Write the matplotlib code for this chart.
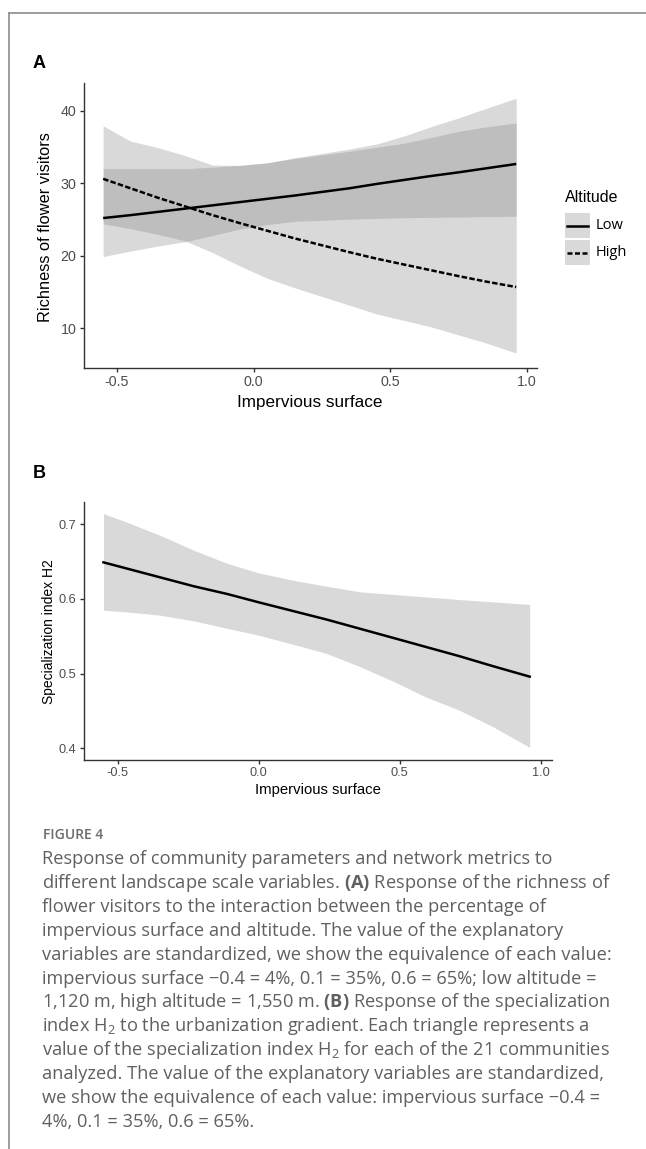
import matplotlib
matplotlib.use("Agg")
import matplotlib.pyplot as plt
from matplotlib.patches import Rectangle
from matplotlib.lines import Line2D

# ---------------- data: panel A (richness of flower visitors) ----------------
imperv_A = [-0.55, -0.45, -0.35, -0.25, -0.15, -0.05, 0.05, 0.15, 0.25, 0.35,
            0.45, 0.55, 0.65, 0.75, 0.85, 0.96]
low_fit = [25.2, 25.6, 26.05, 26.5, 26.95, 27.4, 27.85, 28.3, 28.8, 29.3,
           29.9, 30.45, 31.0, 31.5, 32.05, 32.65]
low_lower = [19.9, 20.65, 21.35, 21.95, 22.8, 23.7, 24.3, 24.75, 24.9, 25.05,
             25.15, 25.25, 25.3, 25.35, 25.4, 25.45]
low_upper = [32.0, 32.0, 32.0, 32.0, 32.2, 32.45, 32.8, 33.5, 34.1, 34.7,
             35.4, 36.5, 37.8, 39.0, 40.3, 41.7]
high_fit = [30.6, 29.3, 28.0, 26.8, 25.6, 24.5, 23.45, 22.4, 21.45, 20.5,
            19.6, 18.8, 18.0, 17.2, 16.45, 15.7]
high_lower = [24.4, 23.75, 22.95, 22.05, 20.45, 18.6, 16.9, 15.6, 14.4, 13.2,
              12.0, 11.1, 10.2, 9.1, 8.0, 6.6]
high_upper = [37.9, 35.8, 34.9, 33.8, 32.5, 32.45, 32.8, 33.4, 33.9, 34.4,
              34.95, 35.5, 36.3, 37.15, 37.75, 38.3]
altitude_levels = ["Low", "High"]
xticks_A = [-0.5, 0.0, 0.5, 1.0]
yticks_A = [10, 20, 30, 40]

# ---------------- data: panel B (specialization index H2) ----------------
imperv_B = [-0.55, -0.47, -0.35, -0.23, -0.11, 0.0, 0.12, 0.24, 0.36, 0.48,
            0.59, 0.71, 0.83, 0.96]
h2_fit = [0.649, 0.641, 0.629, 0.617, 0.6065, 0.5955, 0.584, 0.5725, 0.560,
          0.5475, 0.536, 0.5235, 0.510, 0.496]
h2_upper = [0.7143, 0.7031, 0.6853, 0.6652, 0.6474, 0.6349, 0.6251, 0.6171,
            0.6095, 0.6059, 0.6028, 0.5992, 0.5961, 0.5926]
h2_lower = [0.585, 0.5827, 0.5783, 0.5707, 0.5605, 0.5515, 0.5395, 0.527,
            0.5092, 0.4891, 0.4691, 0.4512, 0.4289, 0.4013]
xticks_B = [-0.5, 0.0, 0.5, 1.0]
yticks_B = [0.4, 0.5, 0.6, 0.7]

caption_title = "FIGURE 4"
caption_lines = [
    "Response of community parameters and network metrics to",
    r"different landscape scale variables. $\mathbf{(A)}$ Response of the richness of",
    "flower visitors to the interaction between the percentage of",
    "impervious surface and altitude. The value of the explanatory",
    "variables are standardized, we show the equivalence of each value:",
    "impervious surface \u22120.4 = 4%, 0.1 = 35%, 0.6 = 65%; low altitude =",
    r"1,120 m, high altitude = 1,550 m. $\mathbf{(B)}$ Response of the specialization",
    r"index H$_2$ to the urbanization gradient. Each triangle represents a",
    r"value of the specialization index H$_2$ for each of the 21 communities",
    "analyzed. The value of the explanatory variables are standardized,",
    "we show the equivalence of each value: impervious surface \u22120.4 =",
    "4%, 0.1 = 35%, 0.6 = 65%.",
]

# ---------------- style ----------------
plt.rcParams["font.family"] = ["Liberation Sans", "DejaVu Sans"]
plt.rcParams["mathtext.fontset"] = "custom"
plt.rcParams["mathtext.rm"] = "Open Sans"
plt.rcParams["mathtext.it"] = "Open Sans:italic"
plt.rcParams["mathtext.bf"] = "Open Sans:bold"

W, H, DPI = 646, 1149, 100
fig = plt.figure(figsize=(W / DPI, H / DPI), dpi=DPI)
fig.patch.set_facecolor("white")

BAND = "#7c7c7c"
BAND_ALPHA = 0.29
TICKCOL = "#4d4d4d"
AXCOL = "#333333"


def px_axes(l, t, r, b):
    return fig.add_axes([l / W, 1 - b / H, (r - l) / W, (b - t) / H])


def style(ax, fs_tick):
    for s in ("top", "right"):
        ax.spines[s].set_visible(False)
    for s in ("left", "bottom"):
        ax.spines[s].set_color(AXCOL)
        ax.spines[s].set_linewidth(1.0)
    ax.tick_params(axis="both", colors=AXCOL, labelcolor=TICKCOL,
                   length=3, width=1.0, labelsize=fs_tick)
    ax.tick_params(axis="x", pad=2.0)
    ax.tick_params(axis="y", pad=2.5)


# frame of the page
fig.add_artist(Line2D([9 / W, 1.0], [1 - 13 / H, 1 - 13 / H], transform=fig.transFigure,
                      color="#8c8c8c", lw=1.2))
fig.add_artist(Line2D([9 / W, 9 / W], [1 - 13 / H, 0.0], transform=fig.transFigure,
                      color="#8c8c8c", lw=1.2))

# ---------------- panel A ----------------
axA = px_axes(84, 83, 537, 368)
axA.fill_between(imperv_A, low_lower, low_upper, color=BAND, alpha=BAND_ALPHA, lw=0)
axA.fill_between(imperv_A, high_lower, high_upper, color=BAND, alpha=BAND_ALPHA, lw=0)
axA.plot(imperv_A, low_fit, color="black", lw=1.8, solid_capstyle="butt")
axA.plot(imperv_A, high_fit, color="black", lw=1.8, dashes=(2.2, 0.9))
axA.set_xlim(-0.62, 1.036)
axA.set_ylim(4.55, 43.8)
axA.set_xticks(xticks_A)
axA.set_xticklabels([f"{v:.1f}" for v in xticks_A])
axA.set_yticks(yticks_A)
style(axA, 10.3)
axA.set_xlabel("Impervious surface", fontsize=12.3, va="center")
axA.xaxis.set_label_coords(0.499, (368 - 403) / (368 - 83))
axA.set_ylabel("Richness of flower visitors", fontsize=11.8, va="center")
axA.yaxis.set_label_coords((46 - 84) / (537 - 84), 0.495)
fig.text(33 / W, 1 - 63 / H, "A", fontsize=13, fontweight="bold", ha="left", va="center")

# legend (drawn in a pixel-coordinate helper axes)
axL = px_axes(555, 180, 646, 275)
axL.set_xlim(555, 646)
axL.set_ylim(275, 180)
axL.axis("off")
axL.text(565, 197, "Altitude", fontsize=11.5, ha="left", va="center")
for i, (lab, dsh) in enumerate(zip(altitude_levels, [None, (2.0, 1.0)])):
    top = 213 + 27 * i
    axL.add_patch(Rectangle((565, top), 25, 25, facecolor=BAND, alpha=BAND_ALPHA, lw=0))
    kw = dict(color="black", lw=1.8)
    if dsh is not None:
        kw["dashes"] = dsh
    axL.plot([567, 588], [top + 12.5, top + 12.5], **kw)
    axL.text(596, top + 12.5, lab, fontsize=10.5, family=["Open Sans", "DejaVu Sans"],
             ha="left", va="center")

# ---------------- panel B ----------------
axB = px_axes(84, 502, 552, 760)
axB.fill_between(imperv_B, h2_lower, h2_upper, color=BAND, alpha=BAND_ALPHA, lw=0)
axB.plot(imperv_B, h2_fit, color="black", lw=1.8)
axB.set_xlim(-0.619, 1.039)
axB.set_ylim(0.3844, 0.7298)
axB.set_xticks(xticks_B)
axB.set_xticklabels([f"{v:.1f}" for v in xticks_B])
axB.set_yticks(yticks_B)
axB.set_yticklabels([f"{v:.1f}" for v in yticks_B])
style(axB, 9.2)
axB.set_xlabel("Impervious surface", fontsize=10.7, va="center")
axB.xaxis.set_label_coords(0.499, (760 - 790) / (760 - 502))
axB.set_ylabel("Specialization index H2", fontsize=10, va="center")
axB.yaxis.set_label_coords((49 - 84) / (552 - 84), 0.496)
fig.text(33 / W, 1 - 473 / H, "B", fontsize=13, fontweight="bold", ha="left", va="center")

# ---------------- caption ----------------
renderer = fig.canvas.get_renderer()
probe = fig.text(0, 0, caption_lines[4], fontsize=12, family=["Open Sans", "DejaVu Sans"])
wpx = probe.get_window_extent(renderer).width
probe.remove()
cap_fs = 12 * 565.0 / wpx

fig.text(43 / W, 1 - 835 / H, caption_title, fontsize=10, fontweight="semibold",
         family=["Open Sans", "DejaVu Sans"], color="#6b6b6b", ha="left", va="center")
for i, line in enumerate(caption_lines):
    yc = 859.3 + 23.85 * i
    fig.text(42 / W, 1 - (yc + 5) / H, line, fontsize=cap_fs,
             family=["Open Sans", "DejaVu Sans"], color="#606060",
             ha="left", va="baseline")

fig.savefig("out.png", dpi=DPI, facecolor="white")
